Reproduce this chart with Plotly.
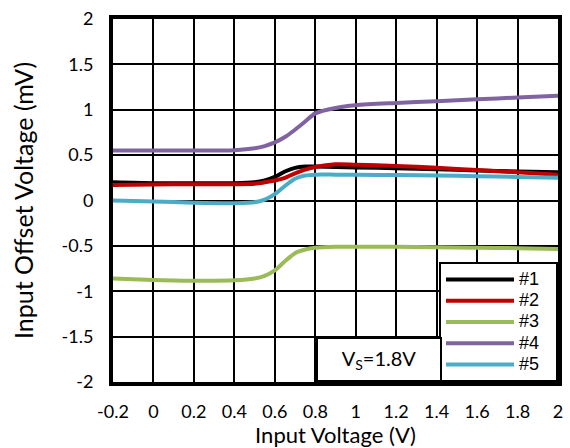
import plotly.graph_objects as go

x = [-0.2, 0, 0.2, 0.4, 0.5, 0.55, 0.6, 0.65, 0.7, 0.75, 0.8, 0.9, 1.0, 1.2, 1.4, 1.6, 1.8, 2.0]
s1 = [0.20, 0.19, 0.19, 0.19, 0.20, 0.22, 0.26, 0.32, 0.36, 0.375, 0.375, 0.37, 0.365, 0.355, 0.345, 0.33, 0.32, 0.31]
s2 = [0.17, 0.175, 0.18, 0.18, 0.185, 0.20, 0.22, 0.25, 0.30, 0.34, 0.37, 0.40, 0.395, 0.38, 0.36, 0.335, 0.31, 0.285]
s3 = [-0.86, -0.875, -0.885, -0.88, -0.86, -0.83, -0.77, -0.67, -0.58, -0.54, -0.52, -0.51, -0.51, -0.51, -0.515, -0.52, -0.525, -0.535]
s4 = [0.55, 0.55, 0.55, 0.555, 0.575, 0.60, 0.64, 0.70, 0.78, 0.87, 0.96, 1.02, 1.05, 1.075, 1.095, 1.115, 1.135, 1.155]
s5 = [0.0, -0.01, -0.025, -0.03, -0.02, 0.01, 0.07, 0.16, 0.24, 0.275, 0.285, 0.285, 0.283, 0.28, 0.275, 0.268, 0.26, 0.25]

names = ["#1", "#2", "#3", "#4", "#5"]
colors = ["#000000", "#C00000", "#9BBB59", "#8064A2", "#4BACC6"]
series = [s1, s2, s3, s4, s5]

xticks = [-0.2, 0, 0.2, 0.4, 0.6, 0.8, 1.0, 1.2, 1.4, 1.6, 1.8, 2.0]
xticklabels = ["-0.2", "0", "0.2", "0.4", "0.6", "0.8", "1", "1.2", "1.4", "1.6", "1.8", "2"]
yticks = [-2, -1.5, -1, -0.5, 0, 0.5, 1, 1.5, 2]
yticklabels = ["-2", "-1.5", "-1", "-0.5", "0", "0.5", "1", "1.5", "2"]

fig = go.Figure()
for n, c, s in zip(names, colors, series):
    label = '<span style="font-size:18px">' + n + '</span>&nbsp;&nbsp;&nbsp;'
    fig.add_trace(go.Scatter(x=x, y=s, name=label, mode="lines",
                             line=dict(color=c, width=4, shape="spline", smoothing=0.8)))

font = "Lato, 'Open Sans', sans-serif"
arial = "'Liberation Sans', Arial, sans-serif"
fig.update_layout(
    width=570, height=448,
    margin=dict(l=113, r=7, t=15, b=66),
    paper_bgcolor="white", plot_bgcolor="white",
    font=dict(family=font, size=18, color="black"),
    showlegend=True,
    legend=dict(x=1, y=0, xanchor="right", yanchor="bottom",
                bgcolor="white", bordercolor="black", borderwidth=2,
                font=dict(size=14, family=arial), itemwidth=68,
                tracegroupgap=0),
    xaxis=dict(range=[-0.2, 2], tickvals=xticks, ticktext=xticklabels,
               showgrid=True, gridcolor="black", gridwidth=2,
               showline=True, linecolor="black", linewidth=4, mirror=True,
               zeroline=False, ticks="", ticklabelstandoff=10,
               title=dict(text="Input Voltage (V)", font=dict(size=22), standoff=2)),
    yaxis=dict(range=[-2, 2], tickvals=yticks, ticktext=yticklabels,
               showgrid=True, gridcolor="black", gridwidth=2,
               showline=True, linecolor="black", linewidth=4, mirror=True,
               zeroline=False, ticks="", ticklabelstandoff=12,
               title=dict(text="Input Offset Voltage (mV)", font=dict(size=25), standoff=22)),
    annotations=[dict(text="V<sub>S</sub>=1.8V", xref="paper", yref="paper",
                      x=0.74, y=0.0, xanchor="right", yanchor="bottom",
                      showarrow=False, font=dict(size=20, family=font),
                      bgcolor="white", bordercolor="black", borderwidth=2,
                      width=116, height=35, borderpad=3)],
)

fig.write_html("out.html")
